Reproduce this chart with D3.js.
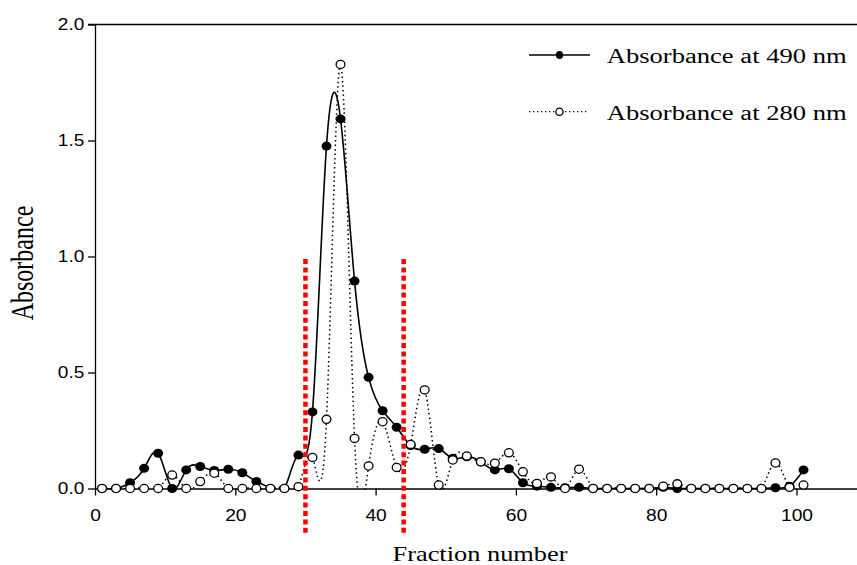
<!DOCTYPE html>
<html>
<head>
<meta charset="utf-8">
<script src="https://cdn.jsdelivr.net/npm/d3@7"></script>
<style>
  html, body { margin: 0; padding: 0; background: #fff; }
  svg { display: block; }
</style>
</head>
<body>
<svg id="chart" width="857" height="565"></svg>
<script>
// ---- data ----
const fractions = [1,3,5,7,9,11,13,15,17,19,21,23,25,27,29,31,33,35,37,39,41,43,45,47,49,51,53,55,57,59,61,63,65,67,69,71,73,75,77,79,81,83,85,87,89,91,93,95,97,99,101];
const abs490 = [0,0,0.025,0.087,0.152,0.0,0.08,0.095,0.078,0.083,0.068,0.03,0,0,0.144,0.33,1.476,1.593,0.894,0.479,0.335,0.264,0.185,0.169,0.172,0.13,0.137,0.115,0.08,0.085,0.025,0.01,0.005,0.003,0.005,0,0,0,0,0,0.005,0,0,0,0,0,0,0,0.003,0.01,0.08];
const abs280 = [0,0,0,0,0,0.058,0,0.03,0.066,0,0,0,0,0,0.008,0.134,0.298,1.828,0.216,0.097,0.288,0.091,0.19,0.425,0.015,0.123,0.14,0.115,0.109,0.154,0.072,0.022,0.05,0,0.083,0,0,0,0,0,0.01,0.02,0,0,0,0,0,0,0.11,0.005,0.015];
const xTicks = [0,20,40,60,80,100];
const yTicks = [0,0.5,1.0,1.5,2.0];
const cutLines = [30,44];
const legendLabels = ["Absorbance at 490 nm","Absorbance at 280 nm"];
const xTitle = "Fraction number";
const yTitle = "Absorbance";

// ---- layout ----
const svg = d3.select("#chart");
const x = d3.scaleLinear().domain([0,110]).range([95, 95 + 110*7.015]);
const y = d3.scaleLinear().domain([0,2]).range([488.5, 24.5]);

function stretch(sel, s) {
  sel.each(function() {
    const len = this.getComputedTextLength();
    d3.select(this).attr("textLength", len * s).attr("lengthAdjust", "spacingAndGlyphs");
  });
}

svg.append("defs").append("clipPath").attr("id", "plotclip")
  .append("rect").attr("x", x(0)).attr("y", y(2)).attr("width", 857 - x(0)).attr("height", y(0) - y(2) + 0.9);

// top frame line
svg.append("line").attr("x1", 88).attr("x2", 857).attr("y1", y(2)).attr("y2", y(2))
  .attr("stroke", "#000").attr("stroke-width", 1.3);

// y axis
const gy = svg.append("g").attr("transform", `translate(${x(0)},0)`)
  .call(d3.axisLeft(y).tickValues(yTicks).tickFormat(d3.format(".1f")).tickSize(7).tickSizeOuter(0).tickPadding(3.7));
gy.select(".domain").attr("stroke-width", 1.3);
gy.selectAll(".tick line").attr("stroke-width", 1.3);
gy.selectAll("text").attr("font-family", "Liberation Sans, Arial, sans-serif").attr("font-size", 17).attr("fill", "#000");
stretch(gy.selectAll("text"), 1.12);

// x axis
const gx = svg.append("g").attr("transform", `translate(0,${y(0)})`)
  .call(d3.axisBottom(x).tickValues(xTicks).tickFormat(d3.format("d")).tickSize(7).tickSizeOuter(0).tickPadding(13.8));
gx.select(".domain").attr("stroke-width", 1.3);
gx.selectAll(".tick line").attr("stroke-width", 1.3);
gx.selectAll("text").attr("font-family", "Liberation Sans, Arial, sans-serif").attr("font-size", 16).attr("fill", "#000");
stretch(gx.selectAll("text"), 1.2);

// data
const pts490 = fractions.map((f,i) => [f, abs490[i]]);
const pts280 = fractions.map((f,i) => [f, abs280[i]]);
const line = d3.line().x(d => x(d[0])).y(d => y(d[1])).curve(d3.curveNatural);

const plot = svg.append("g");
plot.append("path").attr("d", line(pts490)).attr("fill", "none").attr("clip-path", "url(#plotclip)")
  .attr("stroke", "#000").attr("stroke-width", 1.6);
plot.append("g").selectAll("ellipse").data(pts490).join("ellipse")
  .attr("cx", d => x(d[0])).attr("cy", d => y(d[1])).attr("rx", 5).attr("ry", 4.5).attr("fill", "#000");

plot.append("path").attr("d", line(pts280)).attr("fill", "none").attr("clip-path", "url(#plotclip)")
  .attr("stroke", "#000").attr("stroke-width", 1.5).attr("stroke-dasharray", "1.5,3");
plot.append("g").selectAll("ellipse").data(pts280).join("ellipse")
  .attr("cx", d => x(d[0])).attr("cy", d => y(d[1])).attr("rx", 4.4).attr("ry", 4.1)
  .attr("fill", "#fff").attr("stroke", "#000").attr("stroke-width", 1.3);

// red cut lines
svg.append("g").selectAll("line").data(cutLines).join("line")
  .attr("x1", d => x(d)).attr("x2", d => x(d)).attr("y1", 259).attr("y2", 536)
  .attr("stroke", "#ff0000").attr("stroke-width", 4.5).attr("stroke-dasharray", "5,3.4");

// legend
const lg = svg.append("g");
const legY = [55, 111.7];
lg.append("line").attr("x1", 529).attr("x2", 590).attr("y1", legY[0]).attr("y2", legY[0]).attr("stroke", "#000").attr("stroke-width", 1.6);
lg.append("ellipse").attr("cx", 559.5).attr("cy", legY[0]).attr("rx", 3.6).attr("ry", 4).attr("fill", "#000");
lg.append("line").attr("x1", 529).attr("x2", 588).attr("y1", legY[1]).attr("y2", legY[1]).attr("stroke", "#000").attr("stroke-width", 1.3).attr("stroke-dasharray", "1.3,2.7");
lg.append("ellipse").attr("cx", 559.5).attr("cy", legY[1]).attr("rx", 3.6).attr("ry", 3.6).attr("fill", "#fff").attr("stroke", "#000").attr("stroke-width", 1.3);
lg.selectAll("text").data(legendLabels).join("text")
  .attr("x", 606.7).attr("y", (d,i) => legY[i] + 8.3)
  .attr("font-family", "Liberation Serif, Times New Roman, serif").attr("font-size", 20).attr("fill", "#000")
  .text(d => d)
  .attr("textLength", 240).attr("lengthAdjust", "spacingAndGlyphs");

// axis titles
svg.append("text").attr("x", 392.5).attr("y", 561)
  .attr("font-family", "Liberation Serif, Times New Roman, serif").attr("font-size", 21).attr("fill", "#000")
  .text(xTitle).attr("textLength", 175).attr("lengthAdjust", "spacingAndGlyphs");

svg.append("text").attr("transform", `translate(32.5,263) scale(1.3,1) rotate(-90)`)
  .attr("text-anchor", "middle")
  .attr("font-family", "Liberation Serif, Times New Roman, serif").attr("font-size", 24).attr("fill", "#000")
  .text(yTitle);
</script>
</body>
</html>
